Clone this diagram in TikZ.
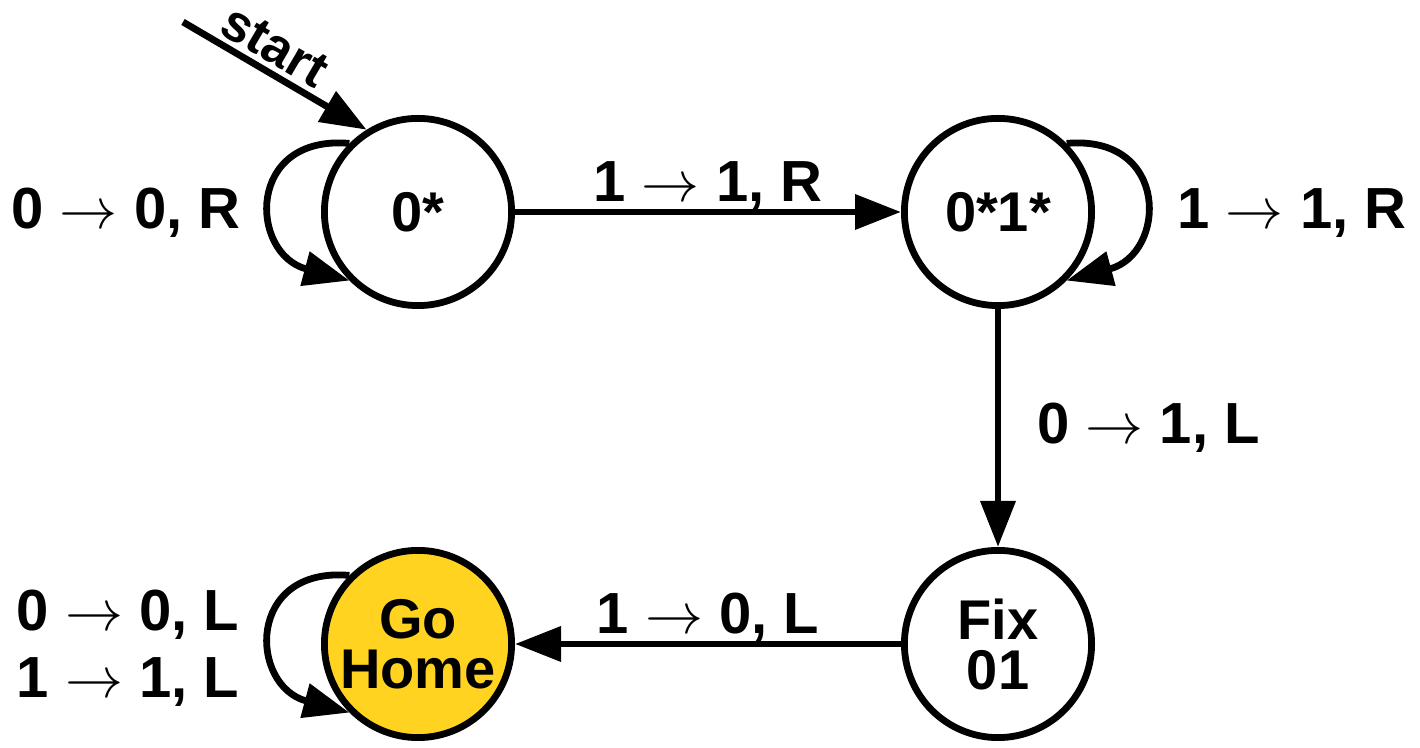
\RequirePackage{fix-cm}
\documentclass[tikz,border=0pt]{standalone}
\usepackage{fontspec}
\setmainfont{Liberation Sans}
\usetikzlibrary{arrows.meta}
\definecolor{gohome}{RGB}{255,211,32}
\begin{document}
\begin{tikzpicture}[x=0.5pt,y=0.5pt,
  state/.style={circle, draw=black, line width=3.4pt, minimum size=93.6pt, inner sep=0pt, fill=white,
    font=\fontsize{28}{25}\selectfont\bfseries, align=center},
  edge/.style={line width=3.4pt, -{Triangle[length=23pt,width=17pt]}},
  lab/.style={font=\fontsize{29}{33.5}\selectfont\bfseries, inner sep=0pt, align=center}]
\useasboundingbox (0,0) rectangle (1420,748);
\node[state] (A) at (418,536) {0*};
\node[state] (B) at (998,536) {0*1*};
\node[state] (C) at (998,104) {Fix\\01};
\node[state, fill=gohome] (D) at (418,104) {Go\\Home};
\coordinate (s0) at (183,726);
\draw[edge] (s0) -- node[lab, font=\fontsize{26}{30}\selectfont\bfseries, sloped, above=2.5pt, pos=0.43] {start} (A.122);
\draw[edge] (A) -- node[lab, above=-1pt] {1 $\rightarrow$ 1, R} (B);
\draw[edge] (B) -- node[lab, right=18pt] {0 $\rightarrow$ 1, L} (C);
\draw[edge] (C) -- node[lab, above=-1pt] {1 $\rightarrow$ 0, L} (D);
\draw[edge] (A.135) to[out=175,in=165,out distance=52pt,in distance=52pt] (A.225);
\draw[edge] (B.45) to[out=5,in=15,out distance=52pt,in distance=52pt] (B.315);
\draw[edge] (D.135) to[out=175,in=165,out distance=52pt,in distance=52pt] (D.225);
\node[lab] (lA) at (126,535) {0 $\rightarrow$ 0, R};
\node[lab] (lB) at (1292,535) {1 $\rightarrow$ 1, R};
\node[lab] (lD) at (128,100) {0 $\rightarrow$ 0, L\\1 $\rightarrow$ 1, L};
\end{tikzpicture}
\end{document}
